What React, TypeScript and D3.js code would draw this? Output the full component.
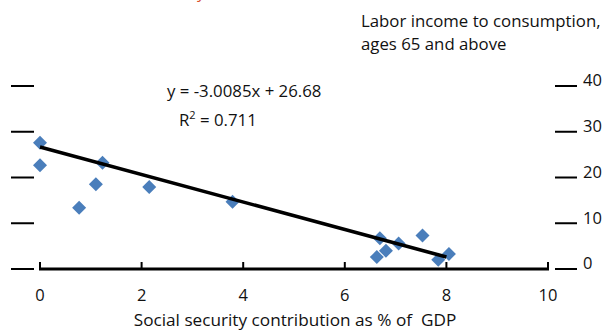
import React from "react";
import * as d3 from "d3";

const W = 603;
const H = 331;

const xValues = [0, 0, 1.23, 1.1, 0.77, 2.15, 3.79, 6.69, 6.81, 6.63, 7.06, 7.53, 7.84, 8.05];
const yValues = [27.6, 22.7, 23.2, 18.5, 13.4, 17.9, 14.7, 6.7, 4.0, 2.6, 5.6, 7.3, 2.0, 3.3];
const xTicks = [0, 2, 4, 6, 8, 10];
const yTicks = [0, 10, 20, 30, 40];
const slope = -3.0085;
const intercept = 26.68;
const trendRange = [0, 8];
const equationLabel = "y = -3.0085x + 26.68";
const r2Value = "0.711";
const titleLines = ["Labor income to consumption,", "ages 65 and above"];
const xTitle = "Social security contribution as % of\u00a0 GDP";

const FONT = "'Open Sans', 'Noto Sans', sans-serif";

export default function App() {
  const x = d3.scaleLinear().domain([0, 10]).range([40, 548]);
  const y = d3.scaleLinear().domain([0, 40]).range([269, 86]);
  const diamond = d3.symbol(d3.symbolSquare, 98)() as string;
  const line = d3
    .line<number>()
    .x((d) => x(d))
    .y((d) => y(slope * d + intercept));

  return (
    <svg
      width={W}
      height={H}
      style={{ position: "absolute", left: 0, top: 0, background: "#fff" }}
      fontFamily={FONT}
    >
      <text x={197} y={-2} fontSize={16} fill="#d9502e">y</text>
      {titleLines.map((t, i) => (
        <text key={i} x={361} y={27 + i * 23} fontSize={16.8} fill="#111">
          {t}
        </text>
      ))}
      {/* left ticks */}
      {yTicks.map((t) => (
        <line key={"l" + t} x1={11} x2={34} y1={y(t)} y2={y(t)} stroke="#000" strokeWidth={2} />
      ))}
      {/* right ticks */}
      {yTicks.map((t) => (
        <g key={"r" + t}>
          <line x1={555} x2={577} y1={y(t)} y2={y(t)} stroke="#000" strokeWidth={2} />
          <text x={583} y={y(t) - 5.5} dy="0.35em" fontSize={16.5} fill="#111">
            {t}
          </text>
        </g>
      ))}
      {/* x axis */}
      <line x1={x(0) - 1} x2={x(10) + 1} y1={y(0)} y2={y(0)} stroke="#000" strokeWidth={3} />
      {xTicks.map((t) => (
        <g key={"x" + t}>
          <line x1={x(t)} x2={x(t)} y1={y(0)} y2={y(0) - 7} stroke="#000" strokeWidth={2} />
          <text x={x(t)} y={295} dy="0.35em" textAnchor="middle" fontSize={16.5} fill="#111">
            {t}
          </text>
        </g>
      ))}
      <text x={295} y={320} dy="0.35em" textAnchor="middle" fontSize={17.2} fill="#111">
        {xTitle}
      </text>
      {/* points */}
      {xValues.map((v, i) => (
        <path
          key={i}
          d={diamond}
          transform={`translate(${x(v)},${y(yValues[i])}) rotate(45)`}
          fill="#4a7ebb"
        />
      ))}
      {/* trend line */}
      <path d={line(trendRange) as string} stroke="#000" strokeWidth={3.5} fill="none" />
      <text x={167} y={91} dy="0.35em" fontSize={16.8} fill="#111">
        {equationLabel}
      </text>
      <text x={179} y={120} dy="0.35em" fontSize={16.8} fill="#111">
        R<tspan dy="-7" fontSize={11}>2</tspan>
        <tspan dy="7"> = {r2Value}</tspan>
      </text>
    </svg>
  );
}
